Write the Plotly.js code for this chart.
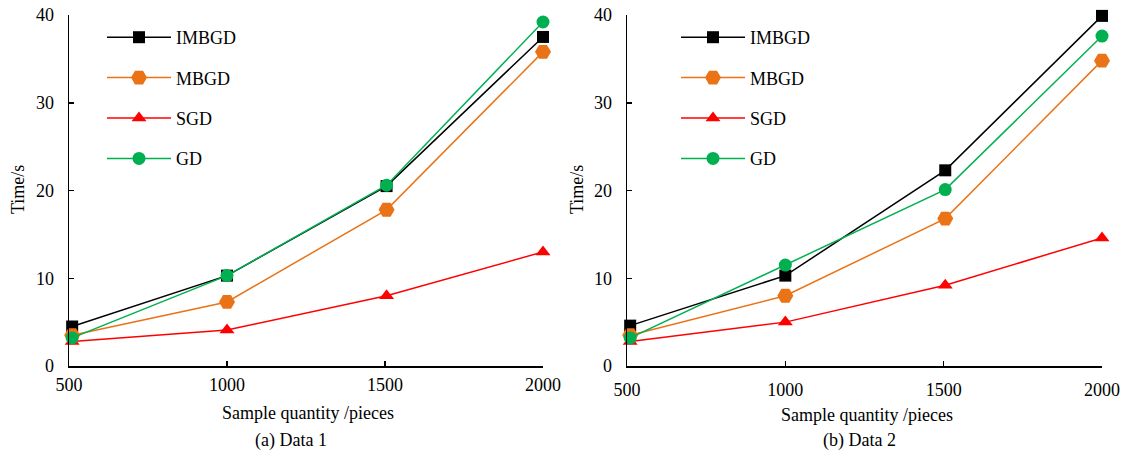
<!DOCTYPE html>
<html><head><meta charset="utf-8">
<script src="https://cdn.plot.ly/plotly-3.0.1.min.js"></script>
<style>html,body{margin:0;padding:0;background:#fff}#chart{width:1125px;height:456px}</style>
</head><body><div id="chart"></div>
<script>
const seriesNames = ['IMBGD','MBGD','SGD','GD'];
const sampleX = [510, 1000, 1505, 2000];
const tickValues = [500, 1000, 1500, 2000];
const tickLabels = ['500', '1000', '1500', '2000'];
// Data 1
const imbgd1 = [4.5, 10.3, 20.5, 37.5];
const mbgd1  = [3.5, 7.3, 17.8, 35.8];
const sgd1   = [2.8, 4.1, 8.0, 13.0];
const gd1    = [3.2, 10.3, 20.6, 39.2];
// Data 2
const imbgd2 = [4.6, 10.3, 22.3, 39.9];
const mbgd2  = [3.5, 8.0, 16.8, 34.8];
const sgd2   = [2.8, 5.0, 9.2, 14.6];
const gd2    = [3.2, 11.5, 20.1, 37.6];

const styles = [
  {color:'#000000', symbol:'square', size:12},
  {color:'#E97316', symbol:'hexagon2', size:16},
  {color:'#FF0000', symbol:'triangle-up', size:13},
  {color:'#00B050', symbol:'circle', size:13}
];
const FONT = 'Liberation Serif, Times New Roman, serif';

function mk(y, i, xa, ya, leg) {
  const s = styles[i];
  return {
    x: sampleX, y: y, xaxis: xa, yaxis: ya, name: seriesNames[i],
    type: 'scatter', mode: 'lines+markers', legend: leg, legendgroup: leg + i,
    cliponaxis: false,
    line: {color: s.color, width: 1.5},
    marker: {color: s.color, symbol: s.symbol, size: s.size, line: {width: 0}}
  };
}
const d1 = [imbgd1, mbgd1, sgd1, gd1];
const d2 = [imbgd2, mbgd2, sgd2, gd2];
const traces = [];
d1.forEach((y, i) => traces.push(mk(y, i, 'x', 'y', 'legend')));
d2.forEach((y, i) => traces.push(mk(y, i, 'x2', 'y2', 'legend2')));

const xBase = {
  range: [500, 2000], tickvals: tickValues, ticktext: tickLabels,
  ticks: 'inside', ticklen: 5, tickwidth: 1.5, tickcolor: '#000',
  showline: true, linecolor: '#000', linewidth: 1.5,
  showgrid: false, zeroline: false, fixedrange: true,
  tickfont: {family: FONT, size: 18, color: '#000'}
};
const yBase = {
  range: [0, 40], tickvals: [0, 10, 20, 30, 40],
  ticks: 'inside', ticklen: 5, tickwidth: 1.5, tickcolor: '#000',
  showline: true, linecolor: '#000', linewidth: 1.5,
  showgrid: false, zeroline: false, fixedrange: true,
  tickfont: {family: FONT, size: 18, color: '#000'},
  ticklabelstandoff: 10
};
const legBase = {
  font: {family: FONT, size: 18, color: '#000'},
  bgcolor: 'rgba(0,0,0,0)', xanchor: 'left', yanchor: 'top',
  tracegroupgap: 14, itemwidth: 64
};
const ann = (text, x, y, extra) => Object.assign({
  text: text, x: x, y: y, xref: 'paper', yref: 'paper', showarrow: false,
  xanchor: 'center', yanchor: 'middle', font: {family: FONT, size: 18, color: '#000'}
}, extra || {});

const layout = {
  width: 1125, height: 456,
  margin: {l: 0, r: 0, t: 0, b: 0},
  paper_bgcolor: '#fff', plot_bgcolor: '#fff',
  showlegend: true,
  xaxis: Object.assign({}, xBase, {domain: [69/1125, 543/1125], anchor: 'y', ticklabelstandoff: 2}),
  yaxis: Object.assign({}, yBase, {domain: [90/456, 441/456], anchor: 'x'}),
  xaxis2: Object.assign({}, xBase, {domain: [627/1125, 1102/1125], anchor: 'y2', ticklabelstandoff: 7}),
  yaxis2: Object.assign({}, yBase, {domain: [90/456, 441/456], anchor: 'x2'}),
  legend: Object.assign({}, legBase, {x: 102/1125, y: (456-19)/456}),
  legend2: Object.assign({}, legBase, {x: 676/1125, y: (456-19)/456}),
  annotations: [
    ann('Time/s', 18/1125, (456-190)/456, {textangle: -90}),
    ann('Time/s', 577/1125, (456-190)/456, {textangle: -90}),
    ann('Sample quantity /pieces', 308/1125, (456-413)/456),
    ann('Sample quantity /pieces', 867/1125, (456-415)/456),
    ann('(a) Data 1', 291/1125, (456-440)/456),
    ann('(b) Data 2', 859/1125, (456-440)/456)
  ]
};
Plotly.newPlot('chart', traces, layout, {displayModeBar: false, staticPlot: true});
</script>
</body></html>
